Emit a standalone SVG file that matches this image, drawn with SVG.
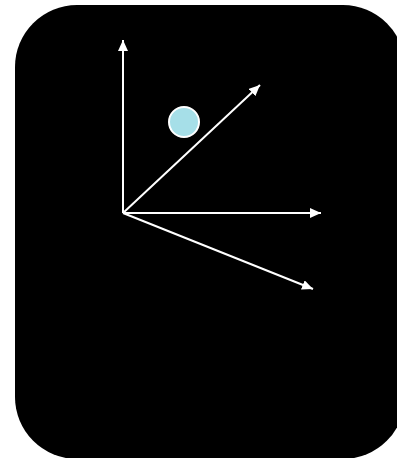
<svg xmlns="http://www.w3.org/2000/svg" width="397" height="458" viewBox="0 0 397 458">
<defs>
<marker id="ah" viewBox="0 0 11 10" refX="11" refY="5" markerWidth="11" markerHeight="10" markerUnits="userSpaceOnUse" orient="auto">
<path d="M0,0 L11,5 L0,10 Z" fill="#fff"/>
</marker>
</defs>
<style>
.ax{stroke:#fff;stroke-width:2;fill:none;marker-end:url(#ah)}
</style>
<rect x="0" y="0" width="397" height="458" fill="#fff"/>
<g id="panel"><rect x="15" y="5" width="390" height="454" rx="62" ry="62" fill="#000"/></g>
<g id="connectors">
<line class="ax" x1="123" y1="213" x2="123" y2="40"/>
<line class="ax" x1="123" y1="213" x2="260" y2="85"/>
<line class="ax" x1="123" y1="213" x2="321" y2="213"/>
<line class="ax" x1="123" y1="213" x2="313" y2="289"/>
</g>
<g id="point"><circle cx="184" cy="122" r="15" fill="#a6dfe8" stroke="#fff" stroke-width="2"/></g>
</svg>
